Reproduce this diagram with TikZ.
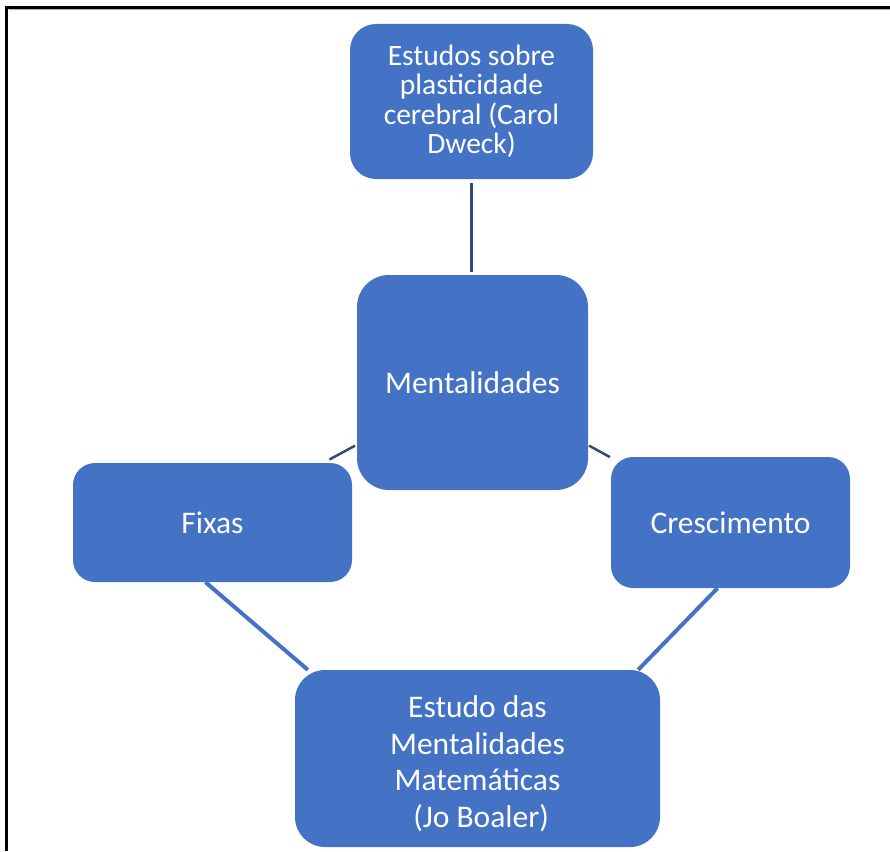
\documentclass[tikz,border=0pt]{standalone}
\usepackage{fontspec}
\setmainfont{Carlito}
\definecolor{boxblue}{HTML}{4472C4}
\definecolor{linknavy}{HTML}{34497A}
\begin{document}
\begin{tikzpicture}[x=1pt,y=-1pt,
  blk/.style={fill=boxblue, text=white, align=center, inner sep=0pt,
    rounded corners=#1, font=\fontsize{31.5}{36.5}\selectfont},
  blk/.default=24pt,
  shortlink/.style={draw=linknavy, line width=2.5pt},
  longlink/.style={draw=boxblue, line width=4pt}]
\useasboundingbox (0,0) rectangle (890,851);
% page frame (left and top edges)
\draw[gray!60, line width=1pt] (9,10) -- (890,10);
\draw[black, line width=2.2pt] (6.5,851) -- (6.5,7.5) -- (890,7.5);

% boxes
\node[blk=26pt, minimum width=243pt, minimum height=155pt,
  font=\fontsize{29.5}{29.5}\selectfont] (top) at (471.5,101.5)
  {Estudos sobre\\plasticidade\\cerebral (Carol\\Dweck)};
\node[blk=32pt, minimum width=231pt, minimum height=215pt] (ment) at (472.5,382.5)
  {Mentalidades};
\node[blk=22pt, minimum width=279pt, minimum height=119pt] (fix) at (212.5,522.5)
  {Fixas};
\node[blk=22pt, minimum width=239pt, minimum height=131pt] (cres) at (730.5,522.5)
  {Crescimento};
\node[blk=30pt, minimum width=365pt, minimum height=177pt,
  label={[text=white, align=center, font=\fontsize{31.5}{36.5}\selectfont,
    yshift=-5pt]center:{Estudo das\\Mentalidades\\Matemáticas\\\ (Jo Boaler)}}]
  (bot) at (477.5,758.5) {};

% connectors
\draw[shortlink, shorten <=4pt, shorten >=3pt] (top.south) -- (top.south |- ment.north);
\draw[shortlink, shorten <=2pt, shorten >=7pt] (ment) -- (fix);
\draw[shortlink, shorten <=1pt, shorten >=1pt] (ment) -- (cres);
\draw[longlink] ([xshift=-7pt]fix.south) -- ([xshift=13pt]bot.north west);
\draw[longlink] ([xshift=-13pt]cres.south) -- ([xshift=-22pt]bot.north east);
\end{tikzpicture}
\end{document}
